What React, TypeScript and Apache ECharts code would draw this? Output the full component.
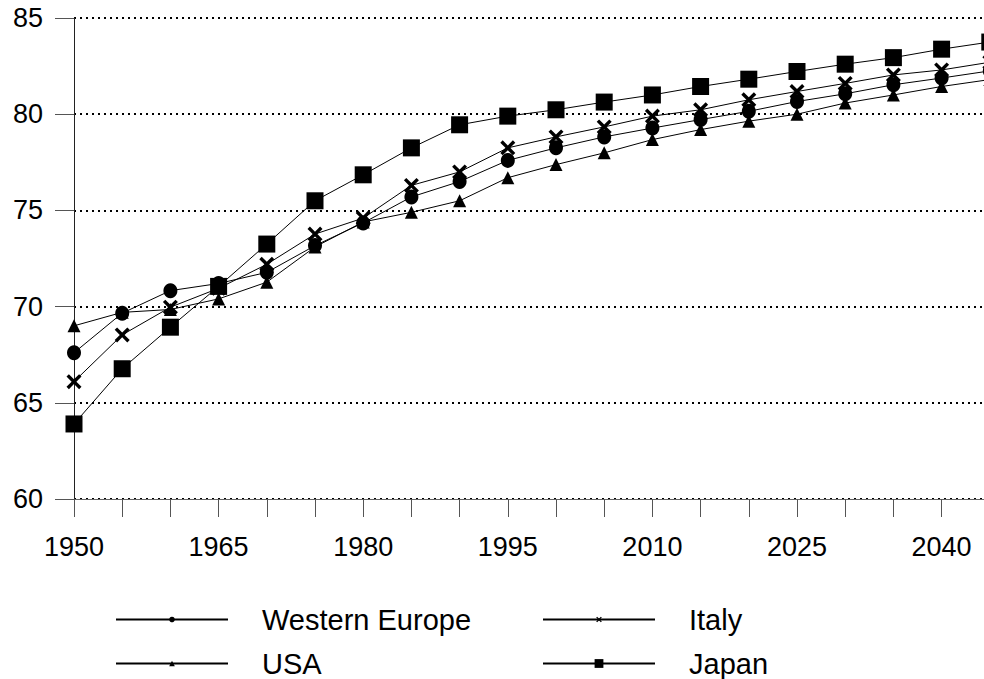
import React, { useEffect, useRef } from 'react';
import * as echarts from 'echarts';

const years = [1950, 1955, 1960, 1965, 1970, 1975, 1980, 1985, 1990, 1995, 2000, 2005, 2010, 2015, 2020, 2025, 2030, 2035, 2040, 2045];
const westernEurope = [67.6, 69.66, 70.83, 71.2, 71.78, 73.17, 74.35, 75.7, 76.5, 77.6, 78.25, 78.82, 79.28, 79.72, 80.15, 80.66, 81.06, 81.53, 81.88, 82.25];
const italy = [66.1, 68.53, 69.97, 70.95, 72.2, 73.77, 74.6, 76.3, 77.0, 78.25, 78.82, 79.34, 79.9, 80.23, 80.75, 81.18, 81.6, 82.04, 82.3, 82.7];
const usa = [69.0, 69.7, 69.85, 70.4, 71.27, 73.1, 74.4, 74.9, 75.5, 76.7, 77.38, 77.99, 78.68, 79.2, 79.64, 80.0, 80.58, 81.0, 81.44, 81.8];
const japan = [63.9, 66.77, 68.93, 71.05, 73.25, 75.5, 76.85, 78.25, 79.45, 79.9, 80.23, 80.63, 81.0, 81.44, 81.82, 82.22, 82.6, 82.94, 83.38, 83.75];
const seriesNames = ['Western Europe', 'Italy', 'USA', 'Japan'];

const FONT = "'Liberation Sans', Arial, sans-serif";
const CROSS = 'path://M0,1.6 L1.6,0 L5,3.4 L8.4,0 L10,1.6 L6.6,5 L10,8.4 L8.4,10 L5,6.6 L1.6,10 L0,8.4 L3.4,5 Z';

function pairs(vals: number[]) {
  return years.map((y, i) => [y, vals[i]]);
}

function mkLegend(name: string, left: number, top: number, itemHeight: number) {
  return {
    data: [name],
    left,
    top,
    padding: 0,
    itemWidth: 112,
    itemHeight,
    selectedMode: false,
    textStyle: { fontSize: 29, lineHeight: 28, fontFamily: FONT, color: '#000', padding: [0, 0, 0, 29] },
  };
}

export default function App() {
  const ref = useRef<HTMLDivElement>(null);
  useEffect(() => {
    const chart = echarts.init(ref.current!, null, { renderer: 'svg' });
    const lineStyle = { color: '#000', width: 1 };
    const itemStyle = { color: '#000' };
    chart.setOption({
      animation: false,
      backgroundColor: '#fff',
      grid: { left: 74, top: 18, bottom: 180, right: -54, outerBoundsMode: 'none', containLabel: false },
      xAxis: {
        type: 'value',
        min: 1950,
        max: 2050,
        interval: 5,
        axisLine: { show: true, lineStyle: { color: '#666', width: 1 } },
        axisTick: { show: true, length: 18, lineStyle: { color: '#555' } },
        splitLine: { show: false },
        axisLabel: {
          fontSize: 27,
          fontFamily: FONT,
          color: '#000',
          margin: 34,
          formatter: (v: number) => ((v - 1950) % 15 === 0 ? String(v) : ''),
        },
      },
      yAxis: {
        type: 'value',
        min: 60,
        max: 85,
        interval: 5,
        axisLine: { show: true, lineStyle: { color: '#222', width: 1 } },
        axisTick: { show: true, length: 19, lineStyle: { color: '#555' } },
        splitLine: { show: true, lineStyle: { color: '#000', width: 2, type: [2, 4] } },
        axisLabel: { fontSize: 27, fontFamily: FONT, color: '#000', margin: 31 },
      },
      legend: [
        mkLegend(seriesNames[0], 115, 605, 7),
        mkLegend(seriesNames[1], 542, 605, 7),
        mkLegend(seriesNames[2], 115, 649, 7),
        mkLegend(seriesNames[3], 542, 649, 11),
      ],
      series: [
        { name: seriesNames[0], type: 'line', data: pairs(westernEurope), symbol: 'circle', symbolSize: [14, 15], lineStyle, itemStyle },
        { name: seriesNames[1], type: 'line', data: pairs(italy), symbol: CROSS, symbolSize: 15, lineStyle, itemStyle },
        { name: seriesNames[2], type: 'line', data: pairs(usa), symbol: 'triangle', symbolSize: 13, lineStyle, itemStyle },
        { name: seriesNames[3], type: 'line', data: pairs(japan), symbol: 'rect', symbolSize: 17, lineStyle, itemStyle },
      ],
    });
    return () => chart.dispose();
  }, []);
  return <div ref={ref} style={{ position: 'fixed', left: 0, top: 0, width: 984, height: 679 }} />;
}
